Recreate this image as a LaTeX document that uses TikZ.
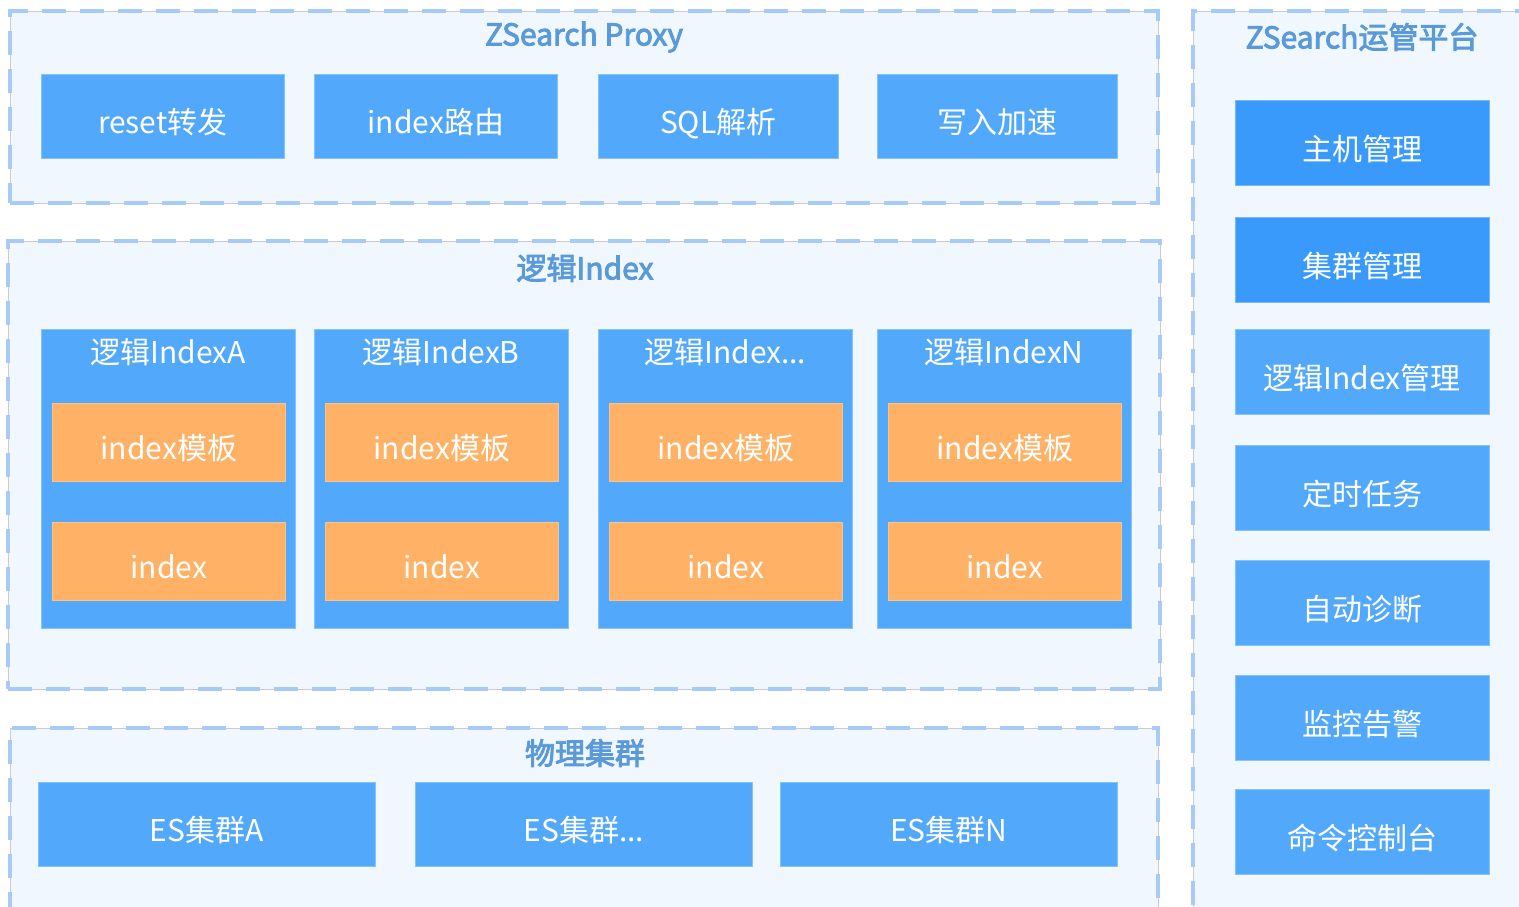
\documentclass[tikz,border=0pt]{standalone}
\usepackage{fontspec}
\setmainfont{Noto Sans CJK SC}
\newfontfamily\mytitlefont[FakeBold=3]{Noto Sans CJK SC}
\definecolor{bglight}{HTML}{F0F7FE}
\definecolor{boxblue}{HTML}{52A8FA}
\definecolor{darkblue}{HTML}{3A9AFC}
\definecolor{orangebox}{HTML}{FFB266}
\definecolor{dashblue}{HTML}{A7CAF7}
\definecolor{titleblue}{HTML}{5A9AD8}
\definecolor{edgegray}{HTML}{C8CCD2}
\newcommand\mylogiccol[3]{%
  \node[bbox, minimum width=254pt, minimum height=299pt] (col#1) at (#2,329) {};
  \node[ctitle] (col#1t) at ([yshift=-23pt]col#1.north) {#3};
  \node[obox, minimum width=233pt, minimum height=78pt] (tpl#1) at ([xshift=11pt,yshift=-74pt]col#1.north west) {index模板};
  \node[obox, minimum width=233pt, minimum height=78pt] (idx#1) at ([xshift=11pt,yshift=-193pt]col#1.north west) {index};
}
\begin{document}
\begin{tikzpicture}[x=1pt,y=-1pt,
  panel/.style={anchor=north west, inner sep=0pt, fill=bglight, draw=edgegray, line width=0.6pt,
    postaction={draw=dashblue, line width=4pt, dash pattern=on 24pt off 14pt}},
  ptitle/.style={text=titleblue, font=\mytitlefont\fontsize{30}{34}\selectfont, inner sep=0pt},
  bbox/.style={anchor=north west, inner sep=0pt, fill=boxblue, draw=boxblue!70!white, line width=0.6pt,
    text=white, font=\fontsize{30}{34}\selectfont, text height=35pt, text depth=0pt},
  dbox/.style={bbox, fill=darkblue, draw=darkblue!70!white},
  obox/.style={bbox, fill=orangebox, draw=orangebox!80!white},
  ctitle/.style={text=white, font=\fontsize{30}{34}\selectfont, inner sep=0pt}
]
\useasboundingbox (0,0) rectangle (1519,906);
\fill[white] (0,0) rectangle (1519,906);

% Panels
\node[panel, minimum width=1148pt, minimum height=192pt] (proxy) at (10,11) {};
\node[panel, minimum width=1152pt, minimum height=448pt] (logic) at (8,241) {};
\node[panel, minimum width=1148pt, minimum height=200pt] (phys) at (10,728) {};
\node[panel, minimum width=340pt, minimum height=920pt] (ops) at (1193,11) {};

% Panel titles
\node[ptitle] (tproxy) at (584,37) {ZSearch Proxy};
\node[ptitle] (tlogic) at (585,268) {逻辑Index};
\node[ptitle] (tphys) at (585,753) {物理集群};
\node[ptitle] (tops) at (1362,37) {ZSearch运管平台};

% Proxy boxes
\node[bbox, minimum width=243pt, minimum height=84pt] (p1) at (41,74) {reset转发};
\node[bbox, minimum width=243pt, minimum height=84pt] (p2) at (314,74) {index路由};
\node[bbox, minimum width=240pt, minimum height=84pt] (p3) at (598,74) {SQL解析};
\node[bbox, minimum width=240pt, minimum height=84pt] (p4) at (877,74) {写入加速};

% Logic index columns
\mylogiccol{a}{41}{逻辑IndexA}
\mylogiccol{b}{314}{逻辑IndexB}
\mylogiccol{c}{598}{逻辑Index...}
\mylogiccol{d}{877}{逻辑IndexN}

% Physical clusters
\node[bbox, minimum width=337pt, minimum height=84pt] (es1) at (38,782) {ES集群A};
\node[bbox, minimum width=337pt, minimum height=84pt] (es2) at (415,782) {ES集群...};
\node[bbox, minimum width=337pt, minimum height=84pt] (es3) at (780,782) {ES集群N};

% Ops boxes
\node[dbox, minimum width=254pt, minimum height=85pt] (o1) at (1235,100) {主机管理};
\node[dbox, minimum width=254pt, minimum height=85pt] (o2) at (1235,217) {集群管理};
\node[bbox, minimum width=254pt, minimum height=85pt] (o3) at (1235,329) {逻辑Index管理};
\node[bbox, minimum width=254pt, minimum height=85pt] (o4) at (1235,445) {定时任务};
\node[bbox, minimum width=254pt, minimum height=85pt] (o5) at (1235,560) {自动诊断};
\node[bbox, minimum width=254pt, minimum height=85pt] (o6) at (1235,675) {监控告警};
\node[bbox, minimum width=254pt, minimum height=85pt] (o7) at (1235,789) {命令控制台};
\end{tikzpicture}
\end{document}
